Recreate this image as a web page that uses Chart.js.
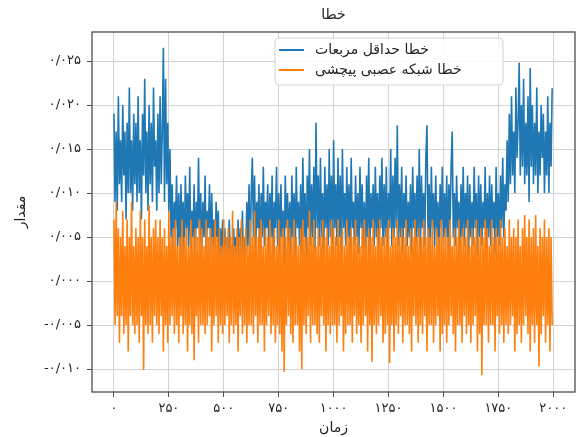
<!DOCTYPE html>
<html>
<head>
<meta charset="utf-8">
<script src="https://cdn.jsdelivr.net/npm/chart.js@4"></script>
<style>
  html, body { margin: 0; padding: 0; background: #fff; }
  #wrap { width: 579px; height: 437px; }
</style>
</head>
<body>
<div id="wrap"><canvas id="errorChart"></canvas></div>
<script>
const chartTitle = 'خطا';
const xAxisTitle = 'زمان';
const yAxisTitle = 'مقدار';
const seriesNames = ['خطا حداقل مربعات', 'خطا شبکه عصبی پیچشی'];

// one sample every 5 time steps, values in thousandths (x 0.001)
const sampleStep = 5;
const lsError = [
  19, 9, 17, 8, 21, 11, 16, 9, 20, 12, 17, 7, 18, 10, 22, 10, 16, 8, 19, 11,
  18, 9, 21, 10, 16, 7, 19, 12, 23, 10, 17, 8, 20, 11, 18, 9, 22, 13, 16, 8,
  19, 10, 21, 11, 17, 26.5, 9, 23, 11, 18, 8, 15, 5, 11, 3, 9, 6, 12, 4, 10,
  3, 11, 5, 9, 2, 12, 6, 10, 4, 13, 3, 8, 5, 11, 2, 9, 6, 14, 4, 10,
  3, 9, 5, 12, 2, 8, 6, 11, 3, 10, 4, 7, 2, 9, 5, 8, 1, 6, 3, 7,
  2, 6, 1, 5, 3, 7, 2, 4, 0, 6, 3, 5, 1, 7, 2, 6, 3, 8, 1, 5,
  3, 9, 4, 11, 2, 10, 14, 5, 12, 3, 9, 6, 11, 2, 10, 5, 13, 4, 9, 6,
  11, 3, 10, 5, 12, 2, 9, 6, 13, 4, 10, 3, 11, 5, 8, 2, 12, 6, 10, 4,
  9, 3, 12, 5, 10, 2, 13, 6, 9, 4, 11, 3, 14, 5, 10, 2, 12, 6, 15, 4,
  11, 5, 13, 3, 18, 6, 12, 4, 14, 5, 10, 3, 13, 6, 11, 4, 15, 5, 12, 3,
  16, 6, 11, 4, 14, 5, 12, 3, 15, 6, 10, 4, 13, 5, 11, 3, 14, 6, 9, 4,
  12, 5, 10, 3, 13, 6, 11, 4, 9, 2, 12, 5, 14, 3, 10, 6, 11, 4, 13, 5,
  10, 3, 12, 6, 14, 4, 11, 5, 13, 3, 10, 6, 15, 4, 12, 5, 14, 6, 17.7, 4,
  11, 5, 13, 3, 10, 6, 12, 4, 9, 5, 11, 3, 13, 6, 10, 4, 12, 5, 15, 3,
  12, 6, 10, 4, 14, 17.7, 5, 11, 3, 13, 6, 10, 4, 12, 5, 9, 3, 11, 6, 13,
  4, 10, 5, 12, 3, 11, 6, 13, 17, 5, 10, 4, 12, 6, 9, 3, 11, 5, 13, 4,
  10, 6, 12, 3, 11, 5, 9, 4, 13, 6, 10, 3, 12, 5, 11, 4, 9, 6, 13, 3,
  10, 5, 12, 4, 11, 6, 9, 3, 13, 5, 10, 4, 12, 6, 14, 5, 11, 8, 16, 9,
  19, 11, 21, 12, 17, 10, 22, 14, 18, 24.8, 12, 20, 13, 23, 11, 18, 12, 21, 9, 24.2,
  13, 20, 11, 18, 12, 22, 10, 17, 12, 20, 14, 19, 10, 17, 12, 21, 10, 18, 13, 21.9
];
const cnnError = [
  7, -5, 9, -4, 6, -7, 5, -4, 8, -6, 4, -5, 7, -8, 5, -4, 9, -5, 4, -6,
  6, -5, 5, -7, 8, -4, 5, -10.1, 7, -5, 4, -6, 8.6, -5, 5, -7, 6, -4, 7, -5,
  5, -6, 7, -4, 5, -8, 6, -5, 4, -7, 8, -5, 5, -4, 6, -6, 7, -5, 4, -7,
  5, -4, 7, -6, 5, -5, 6, -8, 4, -5, 7, -6, 5, -9, 6, -4, 5, -7, 7, -5,
  6, -5, 4, -6, 7, -5, 5, -4, 6, -8, 5, -5, 7, -4, 5, -7, 6, -5, 4, -6,
  7, -5, 5, -4, 6, -7, 5, -5, 8, -6, 4, -5, 6, -8, 5, -4, 7, -6, 5, -5,
  6, -7, 4, -5, 7, -5, 5, -6, 8, -4, 5, -7, 6, -5, 7, -5, 4, -8, 6, -5,
  5, -4, 7, -6, 5, -5, 6, -7, 4, -5, 7, -6, 5, -8, 6, -10.3, 5, -5, 7, -4,
  6, -6, 5, -7, 7, -5, 5, -5, 4, -8, 6, -10, 7, -5, 5, -6, 5, -4, 8, -7,
  5, -5, 7, -5, 4, -6, 6, -7, 5, -4, 7, -5, 5, -8, 6, -5, 4, -6, 7, -5,
  6, -5, 5, -7, 7, -5, 5, -4, 6, -8, 4, -6, 7, -5, 5, -5, 6, -7, 5, -4,
  7, -6, 5, -5, 4, -7, 6, -5, 7, -4, 5, -8, 6, -5, 5, -9.2, 7, -5, 4, -6,
  6, -5, 7, -4, 5, -7, 5, -6, 6, -5, 7, -9.3, 4, -5, 6, -8, 5, -5, 7, -6,
  5, -4, 6, -7, 5, -5, 7, -5, 4, -6, 6, -8, 5, -4, 7, -5, 5, -7, 6, -5,
  5, -6, 7, -4, 5, -8, 6, -5, 5, -5, 7, -7, 4, -5, 6, -4, 5, -8, 7, -6,
  5, -5, 6, -7, 5, -5, 7, -4, 4, -6, 6, -8, 5, -5, 7, -5, 5, -7, 6, -4,
  5, -6, 7, -5, 4, -7, 6, -5, 5, -4, 7, -8, 5, -6, 6, -10.7, 5, -5, 7, -5,
  6, -7, 4, -5, 7, -5, 5, -8, 6, -4, 5, -6, 7, -5, 5, -7, 6, -5, 4, -6,
  7, -5, 5, -4, 6, -8, 5, -6, 7, -5, 4, -7, 6, -5, 7.5, -4, 5, -6, 7, -8,
  5, -5, 6, -7, 7.5, -5, 4, -9.7, 6, -6, 5, -4, 7, -7, 5, -5, 6, -8, 5, -5
];
const xTickValues = [0, 250, 500, 750, 1000, 1250, 1500, 1750, 2000];
const yTickValues = [-10, -5, 0, 5, 10, 15, 20, 25];

const faDigits = '۰۱۲۳۴۵۶۷۸۹';
function toPersian(s) {
  return String(s).replace(/[0-9]/g, d => faDigits[d]).replace('.', '/');
}

function toPoints(values) {
  return values.map((v, i) => ({ x: i * sampleStep, y: v }));
}

const fontFamily = "'DejaVu Sans', sans-serif";

const framePlugin = {
  id: 'frameAndLegend',
  afterDraw(chart) {
    const { ctx, chartArea } = chart;
    ctx.save();
    // frame around plot
    ctx.strokeStyle = '#4d4d4d';
    ctx.lineWidth = 1.3;
    ctx.strokeRect(chartArea.left, chartArea.top, chartArea.right - chartArea.left, chartArea.bottom - chartArea.top);

    // title
    ctx.fillStyle = '#222';
    ctx.font = '14px ' + fontFamily;
    ctx.textAlign = 'center';
    ctx.textBaseline = 'middle';
    ctx.fillText(chartTitle, (chartArea.left + chartArea.right) / 2, 15);

    // legend box
    const bx = 275, by = 38, bw = 228, bh = 47;
    ctx.beginPath();
    ctx.roundRect(bx, by, bw, bh, 4);
    ctx.fillStyle = 'rgba(255,255,255,0.85)';
    ctx.fill();
    ctx.strokeStyle = '#d4d4d4';
    ctx.lineWidth = 1;
    ctx.stroke();
    chart.data.datasets.forEach((ds, i) => {
      const ly = 50 + i * 20;
      ctx.beginPath();
      ctx.moveTo(279, ly);
      ctx.lineTo(304, ly);
      ctx.strokeStyle = ds.borderColor;
      ctx.lineWidth = 2;
      ctx.stroke();
      ctx.fillStyle = '#222';
      ctx.font = '14px ' + fontFamily;
      ctx.textAlign = 'left';
      ctx.textBaseline = 'middle';
      ctx.fillText(ds.label, 315, ly);
    });
    ctx.restore();
  }
};

new Chart(document.getElementById('errorChart'), {
  type: 'line',
  data: {
    datasets: [
      {
        label: seriesNames[0],
        data: toPoints(lsError),
        borderColor: '#1f77b4',
        borderWidth: 1.6,
        order: 1
      },
      {
        label: seriesNames[1],
        data: toPoints(cnnError),
        borderColor: '#ff7f0e',
        borderWidth: 1.6,
        order: 0
      }
    ]
  },
  options: {
    responsive: true,
    maintainAspectRatio: false,
    animation: false,
    layout: { padding: { top: 32, left: 0, right: 4, bottom: 0 } },
    elements: {
      point: { radius: 0 },
      line: { tension: 0 }
    },
    plugins: {
      legend: { display: false },
      title: { display: false },
      tooltip: { enabled: false }
    },
    scales: {
      x: {
        type: 'linear',
        min: -100,
        max: 2099,
        afterBuildTicks: scale => { scale.ticks = xTickValues.map(v => ({ value: v })); },
        afterFit: scale => { scale.height = 45; },
        grid: { color: '#d3d3d3', tickColor: '#4d4d4d', tickLength: 5 },
        border: { display: false },
        ticks: {
          color: '#222',
          padding: 4,
          maxRotation: 0,
          font: { family: fontFamily, size: 13 },
          callback: v => toPersian(v)
        },
        title: {
          display: true,
          text: xAxisTitle,
          color: '#222',
          padding: { top: 0, bottom: 0 },
          font: { family: fontFamily, size: 14 }
        }
      },
      y: {
        min: -12.6,
        max: 28.3,
        afterBuildTicks: scale => { scale.ticks = yTickValues.map(v => ({ value: v })); },
        afterFit: scale => { scale.width = 92; },
        grid: { color: '#d3d3d3', tickColor: '#4d4d4d', tickLength: 5 },
        border: { display: false },
        ticks: {
          color: '#222',
          padding: 6,
          font: { family: fontFamily, size: 13 },
          callback: v => toPersian((v / 1000).toFixed(3))
        },
        title: {
          display: true,
          text: yAxisTitle,
          color: '#222',
          padding: { top: 13, bottom: 0 },
          font: { family: fontFamily, size: 14 }
        }
      }
    }
  },
  plugins: [framePlugin]
});
</script>
</body>
</html>
